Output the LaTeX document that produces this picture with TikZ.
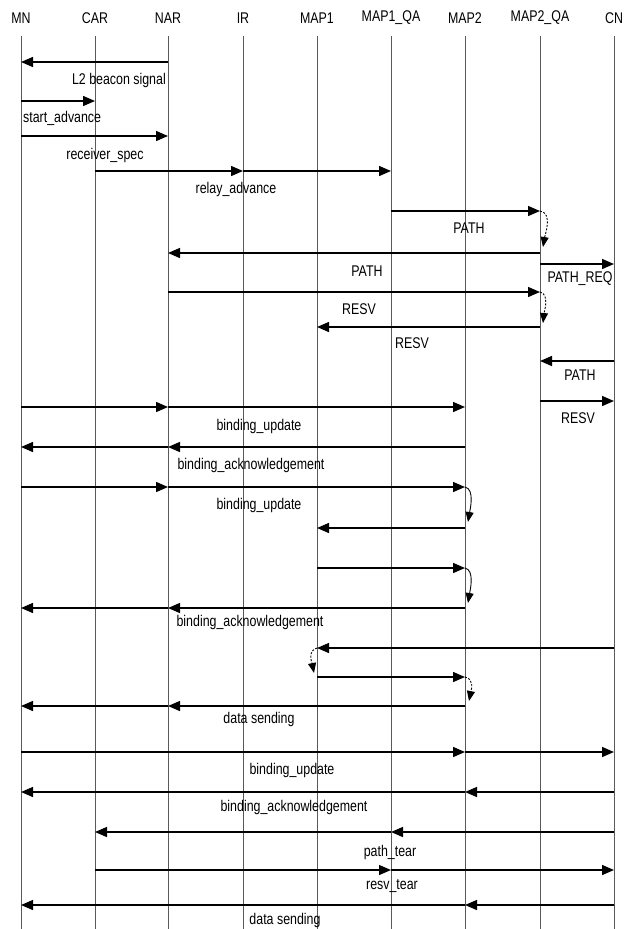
\documentclass[tikz,border=0pt]{standalone}
\usepackage{fontspec}
\setmainfont{Liberation Sans}[FakeStretch=0.8]
\usetikzlibrary{arrows.meta}
\begin{document}
\begin{tikzpicture}[x=1pt,y=-1pt,
    msg/.style={line width=1.4pt,-{Triangle[length=12pt,width=10pt]}},
    turn/.style={line width=0.9pt,-{Triangle[length=10pt,width=8pt]}},
    fine/.style={dash pattern=on 2pt off 1.5pt},
    lbl/.style={font=\fontsize{15.5}{17}\selectfont,inner sep=0pt},
    life/.style={black!65,line width=0.6pt}]
  \useasboundingbox (0,0) rectangle (636,929);
  \draw
    (21,18) node[lbl] (MN){MN}
    (95,18) node[lbl] (CAR){CAR}
    (168,18) node[lbl] (NAR){NAR}
    (243,18) node[lbl] (IR){IR}
    (317,18) node[lbl] (MAP1){MAP1}
    (391,18) node[lbl] (MAP1QA){MAP1\_QA}
    (465,18) node[lbl] (MAP2){MAP2}
    (540,18) node[lbl] (MAP2QA){MAP2\_QA}
    (614,18) node[lbl] (CN){CN};
  \path
    (0,36) coordinate (top)
    (0,929) coordinate (bot)
    (0,62) coordinate (r1)
    (0,101) coordinate (r2)
    (0,136) coordinate (r3)
    (0,171) coordinate (r4)
    (0,211) coordinate (r5)
    (0,253) coordinate (r6)
    (0,264) coordinate (r7)
    (0,292) coordinate (r8)
    (0,327) coordinate (r9)
    (0,361) coordinate (r10)
    (0,401) coordinate (r11)
    (0,407) coordinate (r12)
    (0,447) coordinate (r13)
    (0,487) coordinate (r14)
    (0,528) coordinate (r15)
    (0,568) coordinate (r16)
    (0,608) coordinate (r17)
    (0,648) coordinate (r18)
    (0,677) coordinate (r19)
    (0,706) coordinate (r20)
    (0,752) coordinate (r21)
    (0,792) coordinate (r22)
    (0,832) coordinate (r23)
    (0,870) coordinate (r24)
    (0,905) coordinate (r25);
  % lifelines
  \draw[life] (MN|-top) -- (MN|-bot);
  \draw[life] (CAR|-top) -- (CAR|-bot);
  \draw[life] (NAR|-top) -- (NAR|-bot);
  \draw[life] (IR|-top) -- (IR|-bot);
  \draw[life] (MAP1|-top) -- (MAP1|-bot);
  \draw[life] (MAP1QA|-top) -- (MAP1QA|-bot);
  \draw[life] (MAP2|-top) -- (MAP2|-bot);
  \draw[life] (MAP2QA|-top) -- (MAP2QA|-bot);
  \draw[life] (CN|-top) -- (CN|-bot);
  % messages
  \begin{scope}[msg]
    \draw (NAR|-r1) to (MN|-r1);
    \draw (MN|-r2) to (CAR|-r2);
    \draw (MN|-r3) to (NAR|-r3);
    \draw (CAR|-r4) to (IR|-r4);
    \draw (IR|-r4) to (MAP1QA|-r4);
    \draw (MAP1QA|-r5) to (MAP2QA|-r5);
    \draw (MAP2QA|-r6) to (NAR|-r6);
    \draw (MAP2QA|-r7) to (CN|-r7);
    \draw (NAR|-r8) to (MAP2QA|-r8);
    \draw (MAP2QA|-r9) to (MAP1|-r9);
    \draw (CN|-r10) to (MAP2QA|-r10);
    \draw (MAP2QA|-r11) to (CN|-r11);
    \draw (MN|-r12) to (NAR|-r12);
    \draw (NAR|-r12) to (MAP2|-r12);
    \draw (MAP2|-r13) to (NAR|-r13);
    \draw (NAR|-r13) to (MN|-r13);
    \draw (MN|-r14) to (NAR|-r14);
    \draw (NAR|-r14) to (MAP2|-r14);
    \draw (MAP2|-r15) to (MAP1|-r15);
    \draw (MAP1|-r16) to (MAP2|-r16);
    \draw (MAP2|-r17) to (NAR|-r17);
    \draw (NAR|-r17) to (MN|-r17);
    \draw (CN|-r18) to (MAP1|-r18);
    \draw (MAP1|-r19) to (MAP2|-r19);
    \draw (MAP2|-r20) to (NAR|-r20);
    \draw (NAR|-r20) to (MN|-r20);
    \draw (MN|-r21) to (MAP2|-r21);
    \draw (MAP2|-r21) to (CN|-r21);
    \draw (CN|-r22) to (MAP2|-r22);
    \draw (MAP2|-r22) to (MN|-r22);
    \draw (CN|-r23) to (MAP1QA|-r23);
    \draw (MAP1QA|-r23) to (CAR|-r23);
    \draw (CAR|-r24) to (MAP1QA|-r24);
    \draw (MAP1QA|-r24) to (CN|-r24);
    \draw (CN|-r25) to (MAP2|-r25);
    \draw (MAP2|-r25) to (MN|-r25);
  \end{scope}
  % local turns
  \path
    (543,247) coordinate (e1)
    (543,323) coordinate (e2)
    (468,522) coordinate (e3)
    (468,603) coordinate (e4)
    (314,673) coordinate (e5)
    (469,701) coordinate (e6);
  \draw[turn,fine] (MAP2QA|-r5) .. controls +(13,2) and +(2,-12) .. (e1);
  \draw[turn,fine] (MAP2QA|-r8) .. controls +(10,2) and +(1,-10) .. (e2);
  \draw[turn] (MAP2|-r14) .. controls +(10,2) and +(2,-12) .. (e3);
  \draw[turn] (MAP2|-r16) .. controls +(10,2) and +(2,-12) .. (e4);
  \draw[turn,fine] (MAP1|-r18) .. controls +(-10,3) and +(-2,-10) .. (e5);
  \draw[turn,fine] (MAP2|-r19) .. controls +(10,2) and +(2,-10) .. (e6);
  % labels
  \node[lbl,anchor=east] (l1) at (166,80) {L2 beacon signal};
  \node[lbl,anchor=west] (l2) at (23,118) {start\_advance};
  \node[lbl] (l3) at (105,155) {receiver\_spec};
  \node[lbl] (l4) at (236,189) {relay\_advance};
  \node[lbl] (l5) at (469,228) {PATH};
  \node[lbl] (l6) at (367,271) {PATH};
  \node[lbl] (l7) at (580,279) {PATH\_REQ};
  \node[lbl] (l8) at (359,309) {RESV};
  \node[lbl] (l9) at (412,343) {RESV};
  \node[lbl] (l10) at (580,375) {PATH};
  \node[lbl] (l11) at (578,418) {RESV};
  \node[lbl] (l12) at (259,426) {binding\_update};
  \node[lbl] (l13) at (251,465) {binding\_acknowledgement};
  \node[lbl] (l14) at (259,505) {binding\_update};
  \node[lbl] (l15) at (250,622) {binding\_acknowledgement};
  \node[lbl] (l16) at (259,719) {data sending};
  \node[lbl] (l17) at (292,770) {binding\_update};
  \node[lbl] (l18) at (294,807) {binding\_acknowledgement};
  \node[lbl] (l19) at (390,852) {path\_tear};
  \node[lbl] (l20) at (392,886) {resv\_tear};
  \node[lbl] (l21) at (285,920) {data sending};
\end{tikzpicture}
\end{document}
